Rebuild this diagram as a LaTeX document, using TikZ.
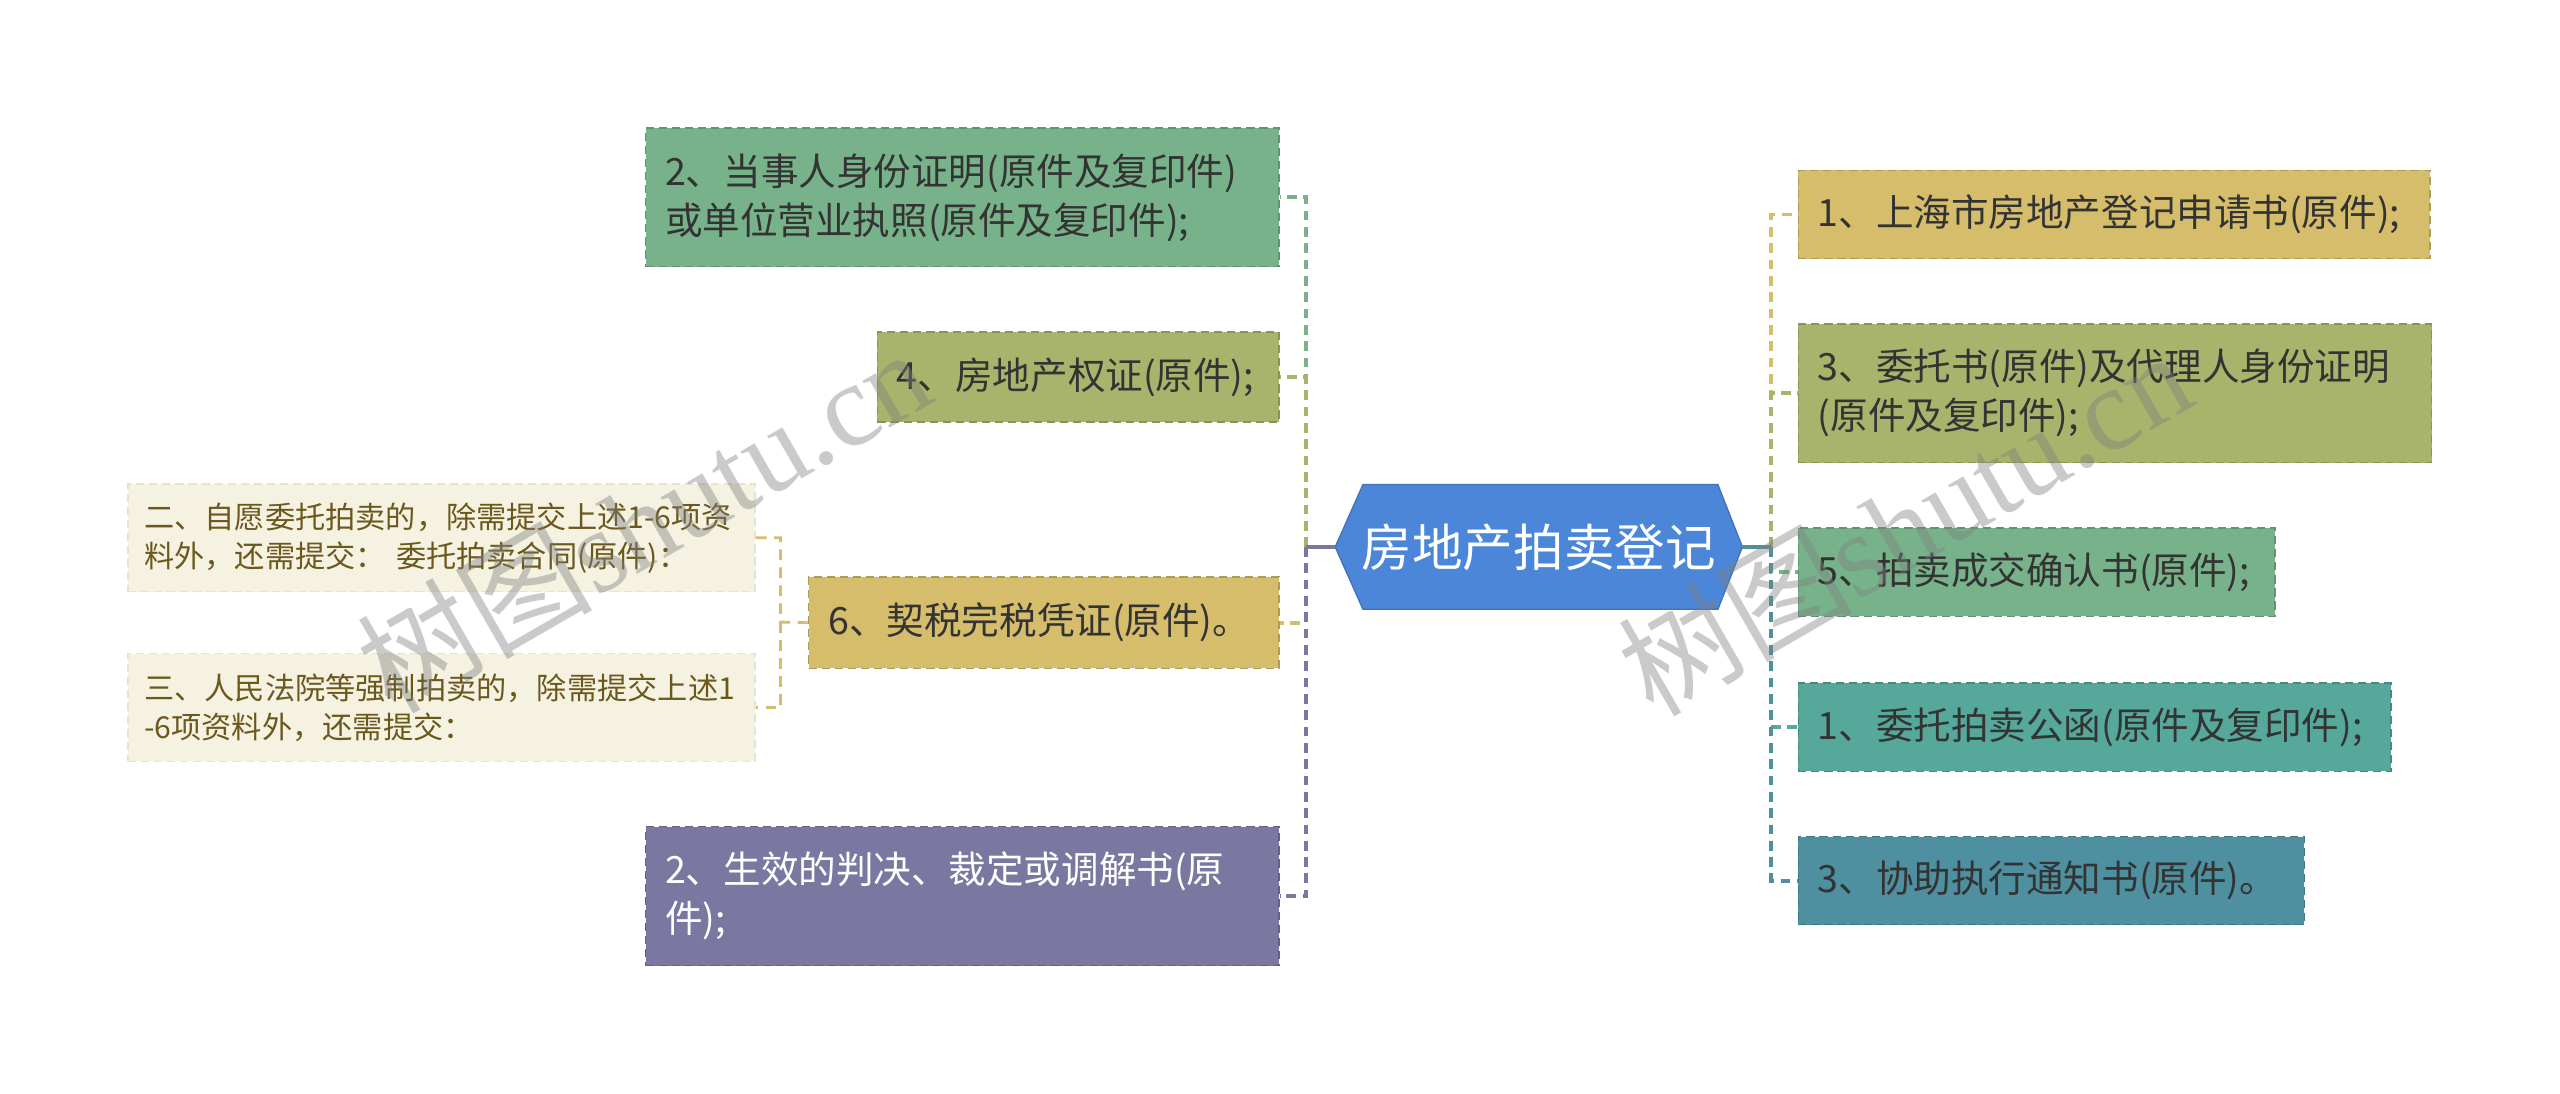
\documentclass[tikz,border=0pt]{standalone}
\usepackage{fontspec}
\setmainfont{Noto Sans CJK SC}
\newfontfamily\wmlatin{Liberation Serif}
\definecolor{rootblue}{HTML}{4C86D9}
\definecolor{gA}{HTML}{77B28B}
\definecolor{gB}{HTML}{A8B36B}
\definecolor{gC}{HTML}{D5BD6B}
\definecolor{gD}{HTML}{7A78A0}
\definecolor{gT}{HTML}{55A89A}
\definecolor{gU}{HTML}{4E8FA0}
\definecolor{cream}{HTML}{F5F2E2}
\definecolor{subtext}{HTML}{6B581C}
\definecolor{textdark}{HTML}{333333}
\begin{document}
\begin{tikzpicture}[x=1pt,y=-1pt,
  conn/.style={line width=2.4pt, dash pattern=on 6pt off 4pt},
  subconn/.style={line width=1.7pt, dash pattern=on 6.5pt off 4.5pt},
  item/.style={fill=#1, draw=#1!82!black, dash pattern=on 5pt off 3pt, line width=0.8pt,
    anchor=north west, inner xsep=12pt, inner ysep=0pt, align=left,
    font=\fontsize{23}{30}\selectfont, text=textdark},
  subitem/.style={fill=cream, draw=cream!94!black, dash pattern=on 5pt off 3pt, line width=0.8pt,
    anchor=north west, inner xsep=10pt, inner ysep=0pt, align=left,
    font=\fontsize{18.5}{24}\selectfont, text=subtext, text width=364pt, minimum height=66pt},
  wm/.style={rotate=30, text=gray, opacity=0.42, font=\fontsize{72}{76}\selectfont}
]
\useasboundingbox (0,0) rectangle (1568,670);

% root
\node[minimum width=249pt, minimum height=76pt, inner sep=0pt] (root) at (942.5,335) {};
\filldraw[fill=rootblue, draw=rootblue!85!black, line width=0.8pt]
  (root.west) -- ([xshift=17pt]root.north west) -- ([xshift=-15pt]root.north east)
  -- (root.east) -- ([xshift=-15pt]root.south east) -- ([xshift=17pt]root.south west) -- cycle;
\node[text=white, font=\fontsize{31}{36}\selectfont] (rootlabel) at (root.center) {房地产拍卖登记};

% left children
\node[item=gA, text width=364pt, minimum height=85pt] (A) at (395,78)
  {2、当事人身份证明(原件及复印件)\\或单位营业执照(原件及复印件);};
\node[item=gB, text width=222pt, minimum height=55pt] (B) at (537,203) {4、房地产权证(原件);};
\node[item=gC, text width=264pt, minimum height=56pt] (C) at (495,353) {6、契税完税凭证(原件)。};
\node[item=gD, text width=364pt, minimum height=85pt, text=white] (D) at (395,506)
  {2、生效的判决、裁定或调解书(原\\件);};

% sub children
\node[subitem] (E) at (78,296) {二、自愿委托拍卖的，除需提交上述1-6项资\\料外，还需提交： 委托拍卖合同(原件)：};
\node[subitem] (F) at (78,400) {三、人民法院等强制拍卖的，除需提交上述1\\-6项资料外，还需提交：};

% right children
\node[item=gC, text width=363pt, minimum height=54pt] (R1) at (1101,104) {1、上海市房地产登记申请书(原件);};
\node[item=gB, text width=364pt, minimum height=85pt] (R2) at (1101,198)
  {3、委托书(原件)及代理人身份证明\\(原件及复印件);};
\node[item=gA, text width=268pt, minimum height=54pt] (R3) at (1101,323) {5、拍卖成交确认书(原件);};
\node[item=gT, text width=339pt, minimum height=54pt] (R4) at (1101,418) {1、委托拍卖公函(原件及复印件);};
\node[item=gU, text width=286pt, minimum height=54pt] (R5) at (1101,512) {3、协助执行通知书(原件)。};

% connectors
\coordinate (ls) at (800,335);
\coordinate (rs) at (1085,335);
\coordinate (cs) at (478,381);
\draw[conn, gA] (ls) |- (A.east);
\draw[conn, gB] (ls) |- (B.east);
\draw[conn, gC] (ls) |- (C.east);
\draw[conn, gD] (ls) |- (D.east);
\draw[line width=2.4pt, gD] (root.west) -- (ls);

\draw[conn, gC] (rs) |- (R1.west);
\draw[conn, gB] (rs) |- (R2.west);
\draw[conn, gA] (rs) |- (R3.west);
\draw[conn, gT] (rs) |- (R4.west);
\draw[conn, gU] (rs) |- (R5.west);
\draw[line width=2.4pt, gU] (root.east) -- (rs);

\draw[subconn, gC] (C.west) -- (cs) |- (E.east);
\draw[subconn, gC] (cs) |- (F.east);

% watermarks
\node[wm] (wm1) at (394,318) {树图{\wmlatin shutu.cn}};
\node[wm] (wm2) at (1166,320) {树图{\wmlatin shutu.cn}};
\end{tikzpicture}
\end{document}
